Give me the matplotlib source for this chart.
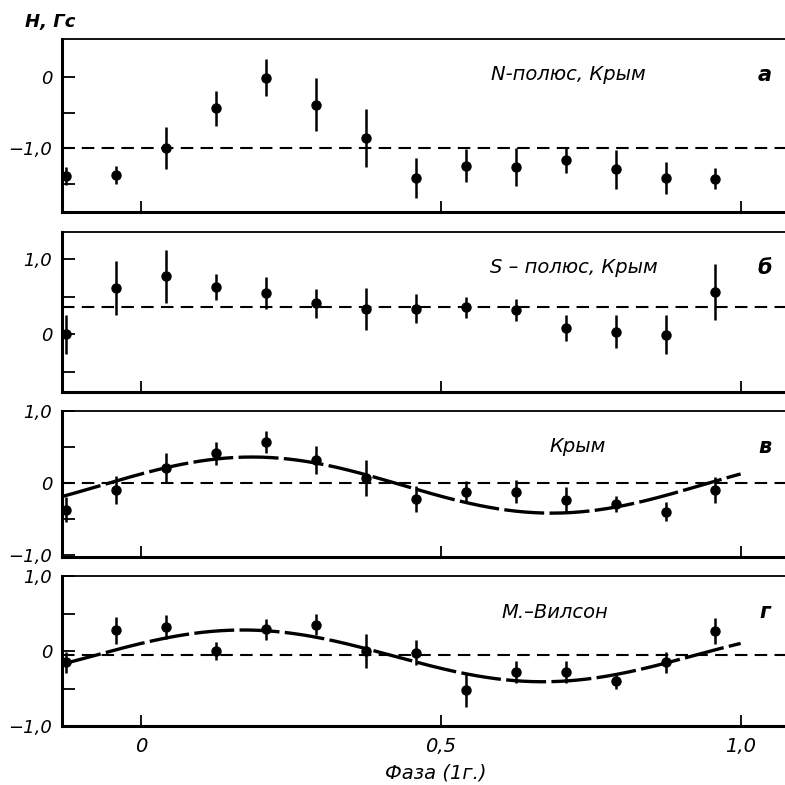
import numpy as np
import matplotlib
matplotlib.use("Agg")
import matplotlib.pyplot as plt

# phase of the 14 points (1 year period)
phase = [-0.125, -0.042, 0.042, 0.125, 0.208, 0.292, 0.375,
         0.458, 0.542, 0.625, 0.708, 0.792, 0.875, 0.958]

# a: N-pole, Crimea
h_north = [-1.39, -1.38, -1.00, -0.44, -0.01, -0.39, -0.86,
           -1.42, -1.25, -1.27, -1.17, -1.30, -1.42, -1.43]
err_north = [0.13, 0.13, 0.30, 0.25, 0.26, 0.37, 0.41,
             0.28, 0.23, 0.27, 0.18, 0.27, 0.23, 0.15]
level_north = -1.0

# b: S-pole, Crimea
h_south = [0.00, 0.61, 0.77, 0.63, 0.55, 0.41, 0.33,
           0.34, 0.36, 0.32, 0.08, 0.03, -0.01, 0.56]
err_south = [0.26, 0.36, 0.35, 0.17, 0.21, 0.19, 0.28,
             0.19, 0.14, 0.15, 0.17, 0.22, 0.26, 0.37]
level_south = 0.36

# v: Crimea
h_crimea = [-0.37, -0.10, 0.21, 0.41, 0.57, 0.32, 0.07,
            -0.22, -0.12, -0.12, -0.24, -0.29, -0.40, -0.10]
err_crimea = [0.17, 0.19, 0.21, 0.16, 0.15, 0.19, 0.25,
              0.18, 0.14, 0.16, 0.18, 0.11, 0.13, 0.18]
level_crimea = 0.0
fit_crimea = (-0.03, 0.39, 0.185)   # offset, amplitude, phase of maximum

# g: Mt Wilson
h_wilson = [-0.15, 0.28, 0.32, 0.00, 0.29, 0.35, 0.00,
            -0.02, -0.52, -0.28, -0.28, -0.40, -0.15, 0.27]
err_wilson = [0.14, 0.18, 0.16, 0.12, 0.14, 0.14, 0.23,
              0.17, 0.23, 0.15, 0.15, 0.11, 0.14, 0.17]
level_wilson = -0.05
fit_wilson = (-0.065, 0.345, 0.17)

W = 785
fig = plt.figure(figsize=(W / 100, W / 100), dpi=100)

panels = [
    dict(px=(39, 212), h=h_north, e=err_north, lev=level_north, fit=None,
         ylim=(-1.90, 0.535), major=[0, -1.0], minor=[-0.5, -1.5],
         labels=["0", "−1,0"], title="N-полюс, Крым", tx=568, letter="а"),
    dict(px=(232, 392), h=h_south, e=err_south, lev=level_south, fit=None,
         ylim=(-0.77, 1.36), major=[1.0, 0], minor=[0.5, -0.5],
         labels=["1,0", "0"], title="S – полюс, Крым", tx=574, letter="б"),
    dict(px=(411, 557), h=h_crimea, e=err_crimea, lev=level_crimea, fit=fit_crimea,
         ylim=(-1.03, 1.0), major=[1.0, 0, -1.0], minor=[0.5, -0.5],
         labels=["1,0", "0", "−1,0"], title="Крым", tx=578, letter="в"),
    dict(px=(576, 726), h=h_wilson, e=err_wilson, lev=level_wilson, fit=fit_wilson,
         ylim=(-1.0, 1.0), major=[1.0, 0, -1.0], minor=[0.5, -0.5],
         labels=["1,0", "0", "−1,0"], title="М.–Вилсон", tx=555, letter="г"),
]

x0 = 62 / W
for i, p in enumerate(panels):
    top, bot = p["px"]
    ax = fig.add_axes([x0, 1 - bot / W, 1 - x0, (bot - top) / W])
    ax.set_xlim(-0.132, 1.074)
    ax.set_ylim(*p["ylim"])

    ax.axhline(p["lev"], color="black", lw=1.5, linestyle=(0, (6, 3.5)), zorder=1)
    ax.errorbar(phase, p["h"], yerr=p["e"], fmt="o", color="black", ms=6.5,
                elinewidth=1.8, capsize=0, zorder=3, clip_on=False)

    if p["fit"] is not None:
        off, amp, pmax = p["fit"]
        xs = np.linspace(-0.132, 1.0, 300)
        ax.plot(xs, off + amp * np.cos(2 * np.pi * (xs - pmax)), color="black",
                lw=2.4, linestyle=(0, (12, 1.6)), zorder=2)

    for s in ["left", "bottom"]:
        ax.spines[s].set_linewidth(2.2)
    ax.spines["top"].set_linewidth(1.3)
    ax.spines["right"].set_visible(False)

    ax.set_yticks(p["major"])
    ax.set_yticklabels(p["labels"], fontsize=13, fontstyle="italic")
    ax.set_yticks(p["minor"], minor=True)
    ax.tick_params(axis="y", which="both", direction="in", length=9, width=1.3, pad=7)
    ax.set_xticks([0, 0.5, 1.0])
    ax.tick_params(axis="x", direction="in", length=8, width=1.3, pad=8)
    if i < 3:
        ax.set_xticklabels([])
    else:
        ax.set_xticklabels(["0", "0,5", "1,0"], fontsize=14, fontstyle="italic")

    ymid = 1 - (top + 36) / W
    fig.text(p["tx"] / W, ymid, p["title"], fontsize=14, fontstyle="italic",
             ha="center", va="center")
    fig.text(765 / W, ymid, p["letter"], fontsize=15, fontstyle="italic",
             fontweight="bold", ha="center", va="center")

fig.text(25 / W, 1 - 22 / W, "H, Гс", fontsize=13, fontstyle="italic",
         fontweight="bold", ha="left", va="center")
fig.text(436 / W, 1 - 773 / W, "Фаза (1г.)", fontsize=14, fontstyle="italic",
         ha="center", va="center")

fig.savefig("out.png", dpi=100)
